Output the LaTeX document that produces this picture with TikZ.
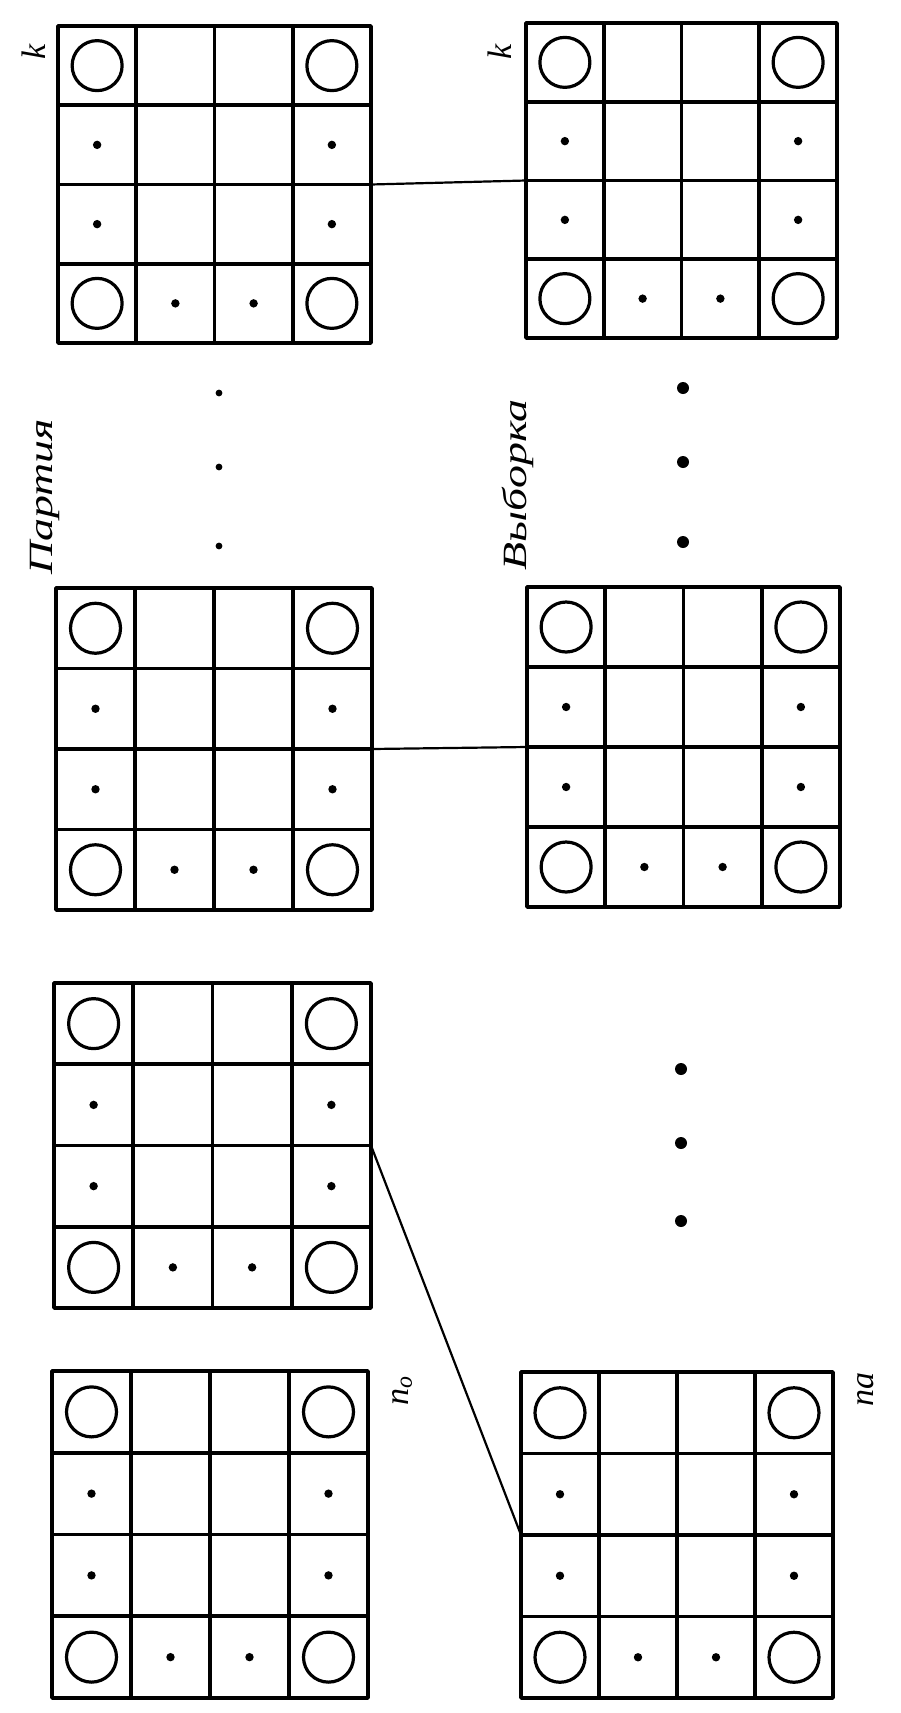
\documentclass[tikz,border=0pt]{standalone}
\usepackage{fontspec}
\usepackage{graphicx}
\newfontfamily\labfont{Liberation Serif}
\usetikzlibrary{fit}
\tikzset{
  gridline/.style={line width=3.6pt, line join=round, line cap=round},
  ring/.style={line width=3.2pt},
  link/.style={line width=2.2pt},
  gridnode/.style={inner sep=0pt, outer sep=0pt, draw=none},
  lab/.style={inner sep=0pt, font=\labfont\itshape\fontsize{34}{38}\selectfont},
}
\newcommand{\cellgrid}[5]{%
  \pgfmathsetmacro\gw{(#4-#2)/4}%
  \pgfmathsetmacro\gh{(#5-#3)/4}%
  \foreach \i in {1,2,3}{%
    \draw[gridline] ({#2+\i*\gw},#3) -- ({#2+\i*\gw},#5);
    \draw[gridline] (#2,{#3+\i*\gh}) -- (#4,{#3+\i*\gh});
  }%
  \draw[gridline] (#2,#3) rectangle (#4,#5);
  \foreach \c/\r in {0/0,3/0,0/3,3/3}
    \draw[ring] ({#2+(\c+0.5)*\gw},{#3+(\r+0.5)*\gh}) circle[radius=25];
  \foreach \c/\r in {0/1,0/2,3/1,3/2,1/3,2/3}
    \fill ({#2+(\c+0.5)*\gw},{#3+(\r+0.5)*\gh}) circle[radius=4.2];
  \coordinate (#1-a) at (#2,#3);
  \coordinate (#1-b) at (#4,#5);
  \node[gridnode, fit=(#1-a)(#1-b)] (#1) {};
}
\begin{document}
\begin{tikzpicture}[x=1pt, y=-1pt]
\useasboundingbox[fill=white] (0,0) rectangle (901,1713);
% grids
\cellgrid{g1}{58}{26}{371}{343}
\cellgrid{g2}{526}{23}{837}{338}
\cellgrid{g3}{56}{588}{372}{910}
\cellgrid{g4}{527}{587}{840}{907}
\cellgrid{g5}{54}{983}{371}{1308}
\cellgrid{g6}{52}{1371}{368}{1698}
\cellgrid{g7}{521}{1372}{833}{1698}
% connectors
\draw[link] (g1.east) -- (g2.west);
\draw[link] (g3.east) -- (g4.west);
\draw[link] (g5.east) -- (g7.west);
% ellipsis dots
\foreach \y in {393,467,546} \fill (219,\y) circle[radius=3.4];
\foreach \y in {388,462,542} \fill (683,\y) circle[radius=6];
\foreach \y in {1069,1143,1221} \fill (681,\y) circle[radius=6];
% labels
\node[lab, rotate=90] (k1) at (34,52) {k};
\node[lab, rotate=90] (k2) at (500,52) {k};
\node[lab, rotate=90] (t1) at (45,497) {\scalebox{1.35}[1]{Партия}};
\node[lab, rotate=90] (t2) at (518,485) {\scalebox{1.35}[1]{Выборка}};
\node[lab, rotate=90] (n1) at (402,1391) {n\textsubscript{o}};
\node[lab, rotate=90] (n2) at (866,1389) {na};
\end{tikzpicture}
\end{document}
